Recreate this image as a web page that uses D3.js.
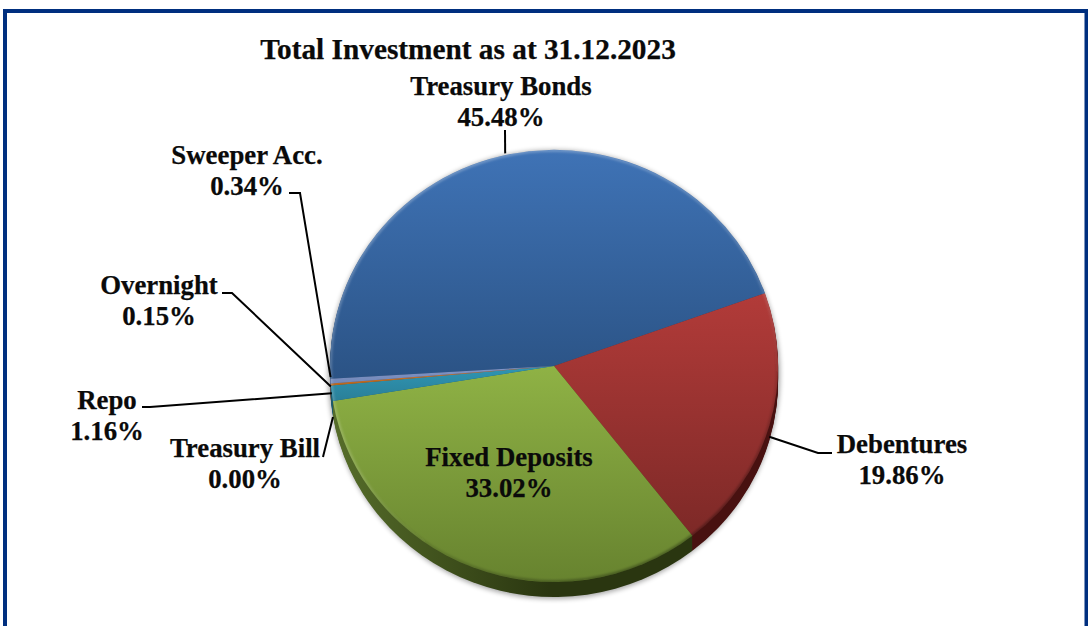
<!DOCTYPE html>
<html>
<head>
<meta charset="utf-8">
<script src="https://cdn.jsdelivr.net/npm/d3@7"></script>
<style>
html, body { margin:0; padding:0; background:#fff; }
svg { display:block; }
text { font-family:"Liberation Serif", serif; font-weight:bold; fill:#0a0a0a; stroke:#0a0a0a; stroke-width:0.25; }
</style>
</head>
<body>
<div id="graphs"></div>
<script>
const title = 'Total Investment as at 31.12.2023';
const categories = ['Treasury Bonds','Debentures','Fixed Deposits','Treasury Bill','Repo','Overnight','Sweeper Acc.'];
const shares = [45.48, 19.86, 33.02, 0.00, 1.16, 0.15, 0.34];
const shareLabels = ['45.48%','19.86%','33.02%','0.00%','1.16%','0.15%','0.34%'];

// slice colours: top of face, bottom of face, rim left, rim right
const faceTop = ['#3f73b6','#b23b39','#8fb245','#7a5ea0','#2f96b4','#d67a26','#8296c8'];
const faceBottom = ['#2b5385','#7d2927','#67832f','#5a4478','#2a7f98','#b8661e','#7388b8'];
const rimLeft = ['#1f3c60','#571715','#566d2a','#3c2c50','#1d5a6c','#80460f','#4c5a80'];
const rimRight = ['#1f3c60','#481110','#2a3610','#3c2c50','#1d5a6c','#80460f','#4c5a80'];

const width = 1088;
const height = 626;
const cx = 554, cy = 366, rx = 224, ry = 216, depth = 15;
const startDeg = -93.4;

// where each label sits and how its leader runs (from the rim out to the text)
const labelLayout = [
  {x:501, y:95,  drop:-1, path:[[505,130]]},
  {x:902, y:453, drop:11, path:[[818,453],[832,453]]},
  {x:509, y:466, drop:null, path:null},
  {x:245, y:457, drop:16, path:[[323,457]]},
  {x:107, y:409, drop:0,  path:[[150,407],[142,407]]},
  {x:159, y:294, drop:2,  path:[[232,293],[222,293]]},
  {x:247, y:164, drop:-4, path:[[300,193],[289,193]]}
];

const svg = d3.select('#graphs')
  .append('svg')
  .attr('width', width)
  .attr('height', height)
  .attr('viewBox', [0,0,width,height]);

const defs = svg.append('defs');

const blur = defs.append('filter').attr('id','soft')
  .attr('x','-10%').attr('y','-10%').attr('width','120%').attr('height','120%');
blur.append('feGaussianBlur').attr('stdDeviation',2.5);

const blurEdge = defs.append('filter').attr('id','softEdge')
  .attr('x','-5%').attr('y','-5%').attr('width','110%').attr('height','110%');
blurEdge.append('feGaussianBlur').attr('stdDeviation',1.2);

categories.forEach((c,i) => {
  const f = defs.append('linearGradient').attr('id','face'+i)
    .attr('x1',0).attr('y1',0).attr('x2',0).attr('y2',1);
  f.append('stop').attr('offset',0).attr('stop-color',faceTop[i]);
  f.append('stop').attr('offset',1).attr('stop-color',faceBottom[i]);
  const r = defs.append('linearGradient').attr('id','rim'+i)
    .attr('x1',0).attr('y1',0).attr('x2',1).attr('y2',0);
  r.append('stop').attr('offset',0).attr('stop-color',rimLeft[i]);
  r.append('stop').attr('offset',0.6).attr('stop-color',rimRight[i]);
  r.append('stop').attr('offset',1).attr('stop-color',rimRight[i]);
});

const edge = defs.append('linearGradient').attr('id','edge')
  .attr('x1',0.1).attr('y1',0).attr('x2',0.6).attr('y2',1);
edge.append('stop').attr('offset',0).attr('stop-color','#fff').attr('stop-opacity',0.28);
edge.append('stop').attr('offset',0.6).attr('stop-color','#fff').attr('stop-opacity',0.14);
edge.append('stop').attr('offset',0.8).attr('stop-color','#000').attr('stop-opacity',0.12);
edge.append('stop').attr('offset',1).attr('stop-color','#000').attr('stop-opacity',0.3);

defs.append('clipPath').attr('id','faceClip')
  .append('ellipse').attr('cx',cx).attr('cy',cy).attr('rx',rx).attr('ry',ry);

// frame
svg.append('path')
  .attr('d', `M5,${height} V11 H1086.5 V${height}`)
  .attr('fill','none')
  .attr('stroke','#002f7f')
  .attr('stroke-width',4);

const pie = d3.pie().sort(null).value(d => d)
  .startAngle(startDeg * Math.PI / 180)
  .endAngle((startDeg + 360) * Math.PI / 180);
const arcs = pie(shares);
const arc = d3.arc().innerRadius(0).outerRadius(1);

// soft shadow under the disc
svg.append('ellipse')
  .attr('cx',cx).attr('cy',cy + depth/2 + 1)
  .attr('rx',rx + 2).attr('ry',ry + depth/2 + 1)
  .attr('fill','#000').attr('opacity',0.35)
  .attr('filter','url(#soft)');

// rim: stacked copies of the slices, deepest first
d3.range(depth, 0, -1).forEach(off => {
  svg.append('g')
    .attr('transform', `translate(${cx},${cy + off}) scale(${rx},${ry})`)
    .selectAll('path')
    .data(arcs)
    .join('path')
    .attr('d', arc)
    .attr('fill', d => `url(#rim${d.index})`);
});

// top face
svg.append('g')
  .attr('transform', `translate(${cx},${cy}) scale(${rx},${ry})`)
  .selectAll('path')
  .data(arcs)
  .join('path')
  .attr('d', arc)
  .attr('fill', d => `url(#face${d.index})`);

// bevel along the face edge
svg.append('g').attr('clip-path','url(#faceClip)')
  .append('ellipse')
  .attr('cx',cx).attr('cy',cy).attr('rx',rx).attr('ry',ry)
  .attr('fill','none')
  .attr('stroke','url(#edge)')
  .attr('stroke-width',4)
  .attr('filter','url(#softEdge)');

// leaders start on the slice's mid angle
const line = d3.line();
svg.append('g')
  .selectAll('path')
  .data(arcs.filter(d => labelLayout[d.index].path))
  .join('path')
  .attr('d', d => {
    const a = (d.startAngle + d.endAngle) / 2;
    const l = labelLayout[d.index];
    const start = [cx + rx * Math.sin(a) - (d.index === 0 ? 4 : 0), cy - ry * Math.cos(a) + l.drop];
    return line([start].concat(l.path));
  })
  .attr('fill','none')
  .attr('stroke','#000')
  .attr('stroke-width',2);

// labels
const labels = svg.append('g')
  .attr('font-size',26.8)
  .attr('text-anchor','middle')
  .selectAll('g')
  .data(categories)
  .join('g');
labels.append('text')
  .attr('x',(d,i) => labelLayout[i].x)
  .attr('y',(d,i) => labelLayout[i].y)
  .text(d => d);
labels.append('text')
  .attr('x',(d,i) => labelLayout[i].x)
  .attr('y',(d,i) => labelLayout[i].y + 31)
  .text((d,i) => shareLabels[i]);

svg.append('text')
  .attr('x',468).attr('y',59)
  .attr('text-anchor','middle')
  .attr('font-size',29.3)
  .text(title);
</script>
</body>
</html>
